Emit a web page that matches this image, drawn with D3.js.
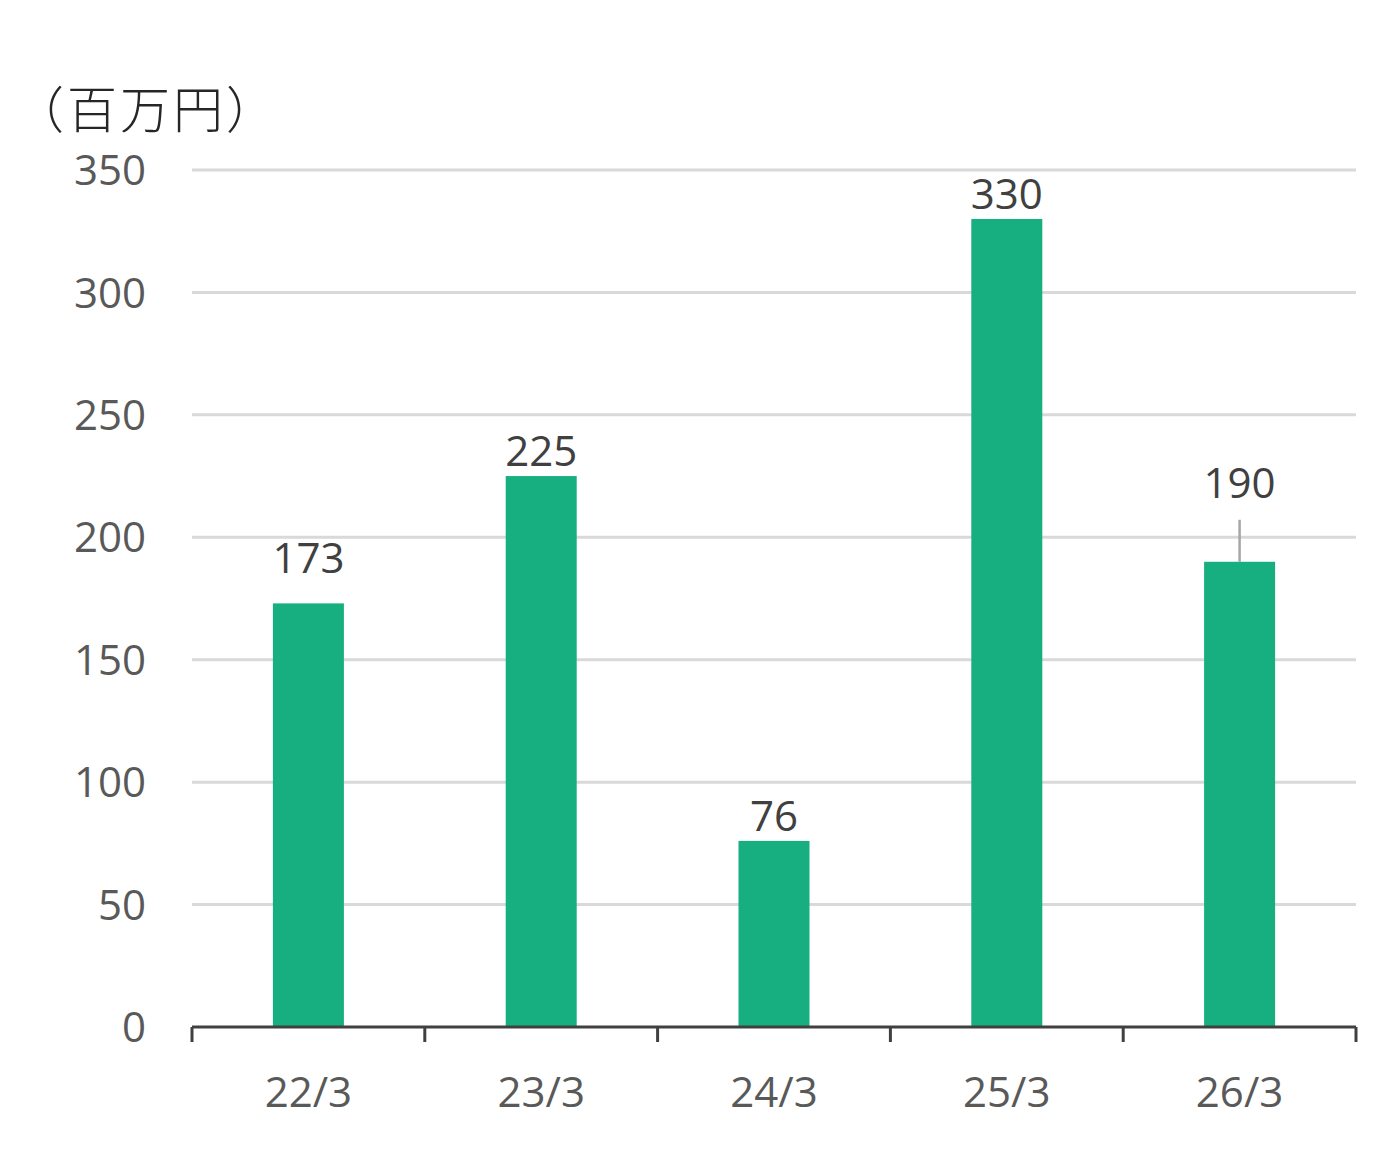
<!DOCTYPE html>
<html>
<head>
<meta charset="utf-8">
<script src="https://cdn.jsdelivr.net/npm/d3@7"></script>
<style>
  body { margin: 0; background: #fff; }
  text { font-family: "Open Sans", "Noto Sans CJK JP", sans-serif; }
</style>
</head>
<body>
<div id="chart"></div>
<script>
/* chart data */
var categories = ["22/3", "23/3", "24/3", "25/3", "26/3"]
var values = [173, 225, 76, 330, 190]
var yTicks = [0, 50, 100, 150, 200, 250, 300, 350]
var unitLabel = "（百万円）"
// extra lift of some data labels (leader line drawn when lifted far)
var labelLift = [20, 0, 0, 0, 54]

var width = 1396, height = 1158
var margin = { top: 170, right: 40, bottom: 131, left: 192 }
var barColor = "#17AF7F"

var svg = d3.select("#chart").append("svg")
    .attr("width", width)
    .attr("height", height)

var x = d3.scaleBand()
    .domain(categories)
    .range([margin.left, width - margin.right])
    .paddingInner(0.695)
    .paddingOuter(0.3475)

var xOuter = d3.scaleBand()
    .domain(categories)
    .range([margin.left, width - margin.right])

var y = d3.scaleLinear()
    .domain([0, 350])
    .range([height - margin.bottom, margin.top])

/* gridlines */
svg.append("g")
    .selectAll("line")
    .data(yTicks.filter(function(d) { return d > 0 }))
    .enter()
    .append("line")
    .attr("x1", margin.left)
    .attr("x2", width - margin.right)
    .attr("y1", function(d) { return y(d) })
    .attr("y2", function(d) { return y(d) })
    .style("stroke", "#d9d9d9")
    .style("stroke-width", 3)

/* y tick labels */
svg.append("g")
    .selectAll("text")
    .data(yTicks)
    .enter()
    .append("text")
    .attr("x", 146)
    .attr("y", function(d) { return y(d) })
    .attr("dy", "0.36em")
    .attr("text-anchor", "end")
    .attr("fill", "#595959")
    .style("font-size", "42px")
    .text(function(d) { return d })

/* unit label */
svg.append("text")
    .attr("x", 14)
    .attr("y", 128)
    .attr("fill", "#262626")
    .style("font-family", "'Noto Sans CJK JP', sans-serif")
    .style("font-size", "50px")
    .style("letter-spacing", "3px")
    .style("font-weight", 300)
    .text(unitLabel)

/* bars */
svg.append("g")
    .selectAll("rect")
    .data(values)
    .enter()
    .append("rect")
    .attr("x", function(d, i) { return x(categories[i]) })
    .attr("width", x.bandwidth())
    .attr("y", function(d) { return y(d) })
    .attr("height", function(d) { return y(0) - y(d) })
    .attr("fill", barColor)

/* leader lines */
svg.append("g")
    .selectAll("line")
    .data(values.map(function(d, i) { return i }).filter(function(i) { return labelLift[i] > 30 }))
    .enter()
    .append("line")
    .attr("x1", function(i) { return x(categories[i]) + x.bandwidth() / 2 })
    .attr("x2", function(i) { return x(categories[i]) + x.bandwidth() / 2 })
    .attr("y1", function(i) { return y(values[i]) - labelLift[i] + 12 })
    .attr("y2", function(i) { return y(values[i]) })
    .style("stroke", "#a6a6a6")
    .style("stroke-width", 2.5)

/* data labels */
svg.append("g")
    .selectAll("text")
    .data(values)
    .enter()
    .append("text")
    .attr("x", function(d, i) { return x(categories[i]) + x.bandwidth() / 2 })
    .attr("y", function(d, i) { return y(d) - 10 - labelLift[i] })
    .attr("text-anchor", "middle")
    .attr("fill", "#404040")
    .style("font-size", "42px")
    .text(function(d) { return d })

/* x axis line and ticks */
var axisG = svg.append("g")
axisG.append("line")
    .attr("x1", margin.left)
    .attr("x2", width - margin.right)
    .attr("y1", y(0))
    .attr("y2", y(0))
    .style("stroke", "#404040")
    .style("stroke-width", 3)

var tickPos = categories.map(function(c) { return xOuter(c) })
tickPos.push(width - margin.right)
axisG.selectAll(".tick")
    .data(tickPos)
    .enter()
    .append("line")
    .attr("class", "tick")
    .attr("x1", function(d) { return d })
    .attr("x2", function(d) { return d })
    .attr("y1", y(0))
    .attr("y2", y(0) + 15)
    .style("stroke", "#404040")
    .style("stroke-width", 3)

/* category labels */
svg.append("g")
    .selectAll("text")
    .data(categories)
    .enter()
    .append("text")
    .attr("x", function(d) { return xOuter(d) + xOuter.bandwidth() / 2 })
    .attr("y", 1107)
    .attr("text-anchor", "middle")
    .attr("fill", "#595959")
    .style("font-size", "42px")
    .text(function(d) { return d })
</script>
</body>
</html>
